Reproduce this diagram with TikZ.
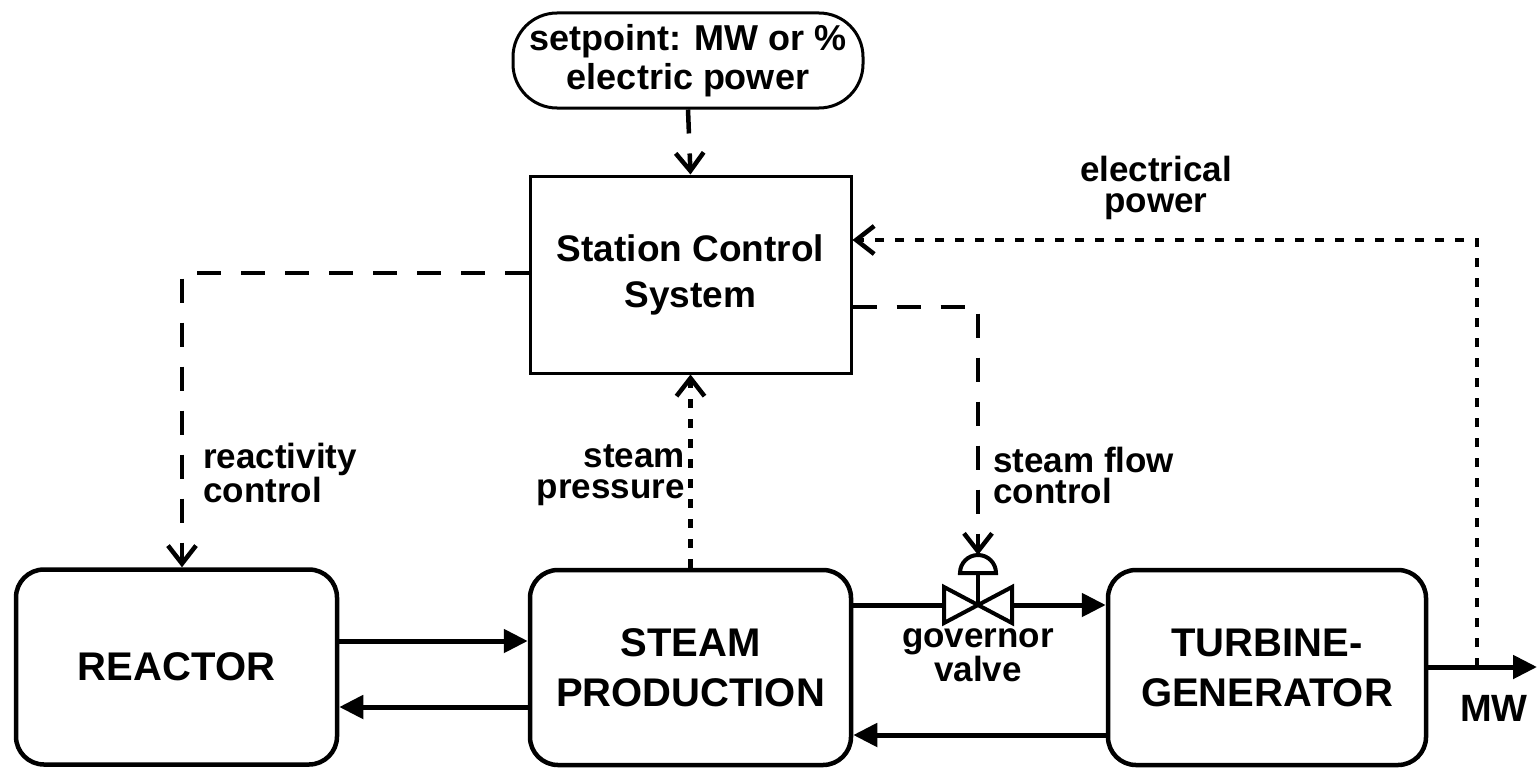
\documentclass[tikz,border=0pt]{standalone}
\usepackage{fontspec}
\setmainfont{Liberation Sans}
\usetikzlibrary{arrows.meta}
\begin{document}
\begin{tikzpicture}[x=1pt,y=-1pt,
  box/.style={draw, line width=4.5pt, rounded corners=28pt, minimum width=321pt, minimum height=195pt,
    align=center, font=\fontsize{40}{50}\selectfont\bfseries, inner sep=0pt},
  thinbox/.style={draw, line width=3pt, minimum width=321pt, minimum height=197pt,
    align=center, font=\fontsize{37}{46}\selectfont\bfseries, inner sep=0pt},
  lbl/.style={font=\fontsize{35}{31}\selectfont\bfseries, inner sep=0pt},
  flow/.style={line width=5pt, -{Triangle[length=24pt,width=23pt]}},
  ctrl/.style={line width=4.5pt, dash pattern=on 24pt off 20pt,
    -{Straight Barb[length=18pt,width=28pt,line width=4.5pt]}},
  meas/.style={line width=4.5pt, dash pattern=on 9pt off 11pt,
    -{Straight Barb[length=18pt,width=28pt,line width=4.5pt]}},
  valvestyle/.style={line width=4pt, line join=miter}
]
\useasboundingbox[fill=white] (0,0) rectangle (1538,768);

% nodes
\node[draw, line width=3pt, rounded corners=44pt, minimum width=350pt, minimum height=95pt,
  align=center, font=\fontsize{36}{39}\selectfont\bfseries, inner sep=0pt]
  (setp) at (688,60.5) {setpoint: MW or \%\\electric power};
\node[thinbox] (scs) at (690.5,274.5) {Station Control\\System};
\node[box] (reactor) at (176.5,667) {REACTOR};
\node[box] (steam) at (690.5,667.5) {STEAM\\PRODUCTION};
\node[box, minimum width=318pt] (turbine) at (1267,667.5) {TURBINE-\\GENERATOR};

% helper coordinates
\coordinate (rc) at (182,273);
\coordinate (sf) at (978,307);
\coordinate (dtop) at (978,555);
\coordinate (ep) at (1477,667);
\coordinate (eph) at (1477,240);
\coordinate (mwend) at (1537,667);
\coordinate (r1) at (0,641);
\coordinate (r2) at (0,707);
\coordinate (s1) at (0,605);
\coordinate (s2) at (0,735);
\coordinate (vl) at (944,605);
\coordinate (vr) at (1012,605);
\coordinate (vc) at (978,605);
\coordinate (db) at (978,573);

% valve
\draw[valvestyle] (944,587) -- (1012,623) -- (1012,587) -- (944,623) -- cycle;
\draw[valvestyle] (vc) -- (db);
\draw[valvestyle] (960,573) arc[start angle=180, end angle=0, radius=18pt] -- cycle;

% flows
\draw[flow] (reactor.east |- r1) -- (steam.west |- r1);
\draw[flow] (steam.west |- r2) -- (reactor.east |- r2);
\draw[line width=5pt] (steam.east |- s1) -- (vl);
\draw[flow] (vr) -- (turbine.west |- s1);
\draw[flow] (turbine.west |- s2) -- (steam.east |- s2);
\draw[flow] (turbine.east |- ep) -- (mwend);

% control / measurement signals
\draw[ctrl] (setp.south) -- (scs.north);
\draw[ctrl] (scs.west |- rc) -- (rc) -- (reactor.north -| rc);
\draw[ctrl] (scs.east |- sf) -- (sf) -- (dtop);
\draw[meas] (steam.north) -- (scs.south);
\draw[meas] (ep) -- (eph) -- (scs.east |- eph);

% labels
\node[lbl, align=left, anchor=west] (lrc) at (203,473) {reactivity\\control};
\node[lbl, align=right, anchor=east] (lsp) at (685,475) {steam\\pressure};
\node[lbl, align=left, anchor=west] (lsf) at (993,475) {steam flow\\control};
\node[lbl, align=center] (lgv) at (978,655) {governor\\valve};
\node[lbl, align=center] (lep) at (1156,188) {electrical\\power};
\node[lbl, font=\fontsize{38}{38}\selectfont\bfseries] (lmw) at (1494,708) {MW};
\end{tikzpicture}
\end{document}
